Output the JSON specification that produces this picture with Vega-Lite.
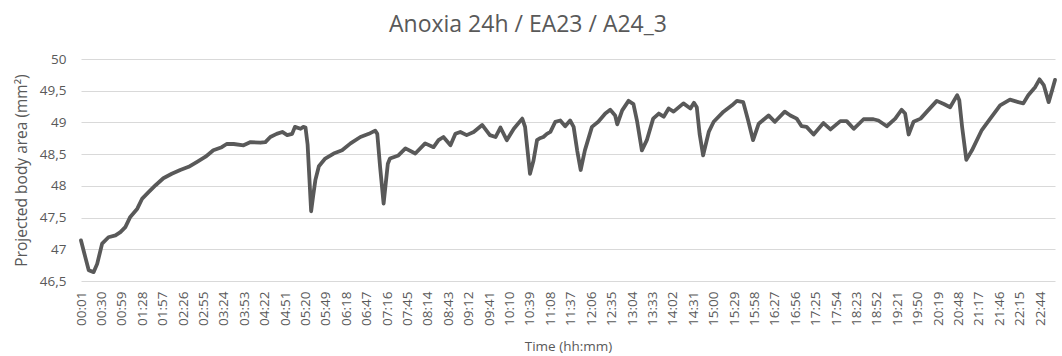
{
  "$schema": "https://vega.github.io/schema/vega-lite/v6.json",
  "width": 974,
  "height": 222,
  "autosize": {"type": "none"},
  "padding": {"left": 81, "top": 59, "right": 7, "bottom": 75},
  "background": "white",
  "config": {"font": "Open Sans", "view": {"stroke": null}},
  "title": {"text": "Anoxia 24h / EA23 / A24_3", "fontSize": 23, "fontWeight": "normal", "color": "#595959", "anchor": "middle", "dx": -40, "offset": 15},
  "data": {"values": [
    {"minute": 1, "area": 47.14}, {"minute": 7, "area": 46.88}, {"minute": 12, "area": 46.67}, {"minute": 19, "area": 46.64},
    {"minute": 24, "area": 46.77}, {"minute": 31, "area": 47.09}, {"minute": 40, "area": 47.19}, {"minute": 50, "area": 47.22},
    {"minute": 57, "area": 47.27}, {"minute": 64, "area": 47.35}, {"minute": 71, "area": 47.51}, {"minute": 81, "area": 47.64},
    {"minute": 88, "area": 47.80}, {"minute": 97, "area": 47.90}, {"minute": 107, "area": 48.01}, {"minute": 118, "area": 48.12},
    {"minute": 130, "area": 48.19}, {"minute": 142, "area": 48.25}, {"minute": 154, "area": 48.30}, {"minute": 166, "area": 48.38},
    {"minute": 178, "area": 48.46}, {"minute": 189, "area": 48.56}, {"minute": 201, "area": 48.61}, {"minute": 208, "area": 48.66},
    {"minute": 218, "area": 48.66}, {"minute": 232, "area": 48.64}, {"minute": 242, "area": 48.69}, {"minute": 256, "area": 48.68},
    {"minute": 263, "area": 48.69}, {"minute": 270, "area": 48.77}, {"minute": 279, "area": 48.82}, {"minute": 287, "area": 48.85},
    {"minute": 294, "area": 48.80}, {"minute": 301, "area": 48.82}, {"minute": 305, "area": 48.93}, {"minute": 313, "area": 48.90},
    {"minute": 317, "area": 48.93}, {"minute": 320, "area": 48.92}, {"minute": 323, "area": 48.65}, {"minute": 328, "area": 47.60},
    {"minute": 331, "area": 47.85}, {"minute": 334, "area": 48.09}, {"minute": 339, "area": 48.31}, {"minute": 348, "area": 48.43},
    {"minute": 360, "area": 48.51}, {"minute": 372, "area": 48.56}, {"minute": 384, "area": 48.67}, {"minute": 398, "area": 48.77},
    {"minute": 410, "area": 48.82}, {"minute": 419, "area": 48.87}, {"minute": 422, "area": 48.82}, {"minute": 426, "area": 48.30},
    {"minute": 431, "area": 47.72}, {"minute": 437, "area": 48.35}, {"minute": 440, "area": 48.43}, {"minute": 452, "area": 48.48},
    {"minute": 462, "area": 48.59}, {"minute": 476, "area": 48.51}, {"minute": 490, "area": 48.67}, {"minute": 502, "area": 48.61},
    {"minute": 509, "area": 48.72}, {"minute": 516, "area": 48.77}, {"minute": 526, "area": 48.64}, {"minute": 533, "area": 48.82},
    {"minute": 540, "area": 48.85}, {"minute": 549, "area": 48.80}, {"minute": 559, "area": 48.85}, {"minute": 571, "area": 48.96},
    {"minute": 582, "area": 48.80}, {"minute": 590, "area": 48.77}, {"minute": 597, "area": 48.92}, {"minute": 606, "area": 48.72},
    {"minute": 616, "area": 48.90}, {"minute": 628, "area": 49.06}, {"minute": 632, "area": 48.93}, {"minute": 639, "area": 48.19},
    {"minute": 644, "area": 48.40}, {"minute": 649, "area": 48.72}, {"minute": 653, "area": 48.75}, {"minute": 658, "area": 48.77},
    {"minute": 663, "area": 48.82}, {"minute": 668, "area": 48.85}, {"minute": 675, "area": 49.01}, {"minute": 682, "area": 49.03},
    {"minute": 689, "area": 48.94}, {"minute": 696, "area": 49.03}, {"minute": 701, "area": 48.93}, {"minute": 706, "area": 48.56},
    {"minute": 711, "area": 48.25}, {"minute": 717, "area": 48.56}, {"minute": 727, "area": 48.93}, {"minute": 736, "area": 49.01},
    {"minute": 746, "area": 49.14}, {"minute": 753, "area": 49.20}, {"minute": 760, "area": 49.11}, {"minute": 763, "area": 48.97},
    {"minute": 770, "area": 49.19}, {"minute": 779, "area": 49.34}, {"minute": 786, "area": 49.29}, {"minute": 791, "area": 49.03},
    {"minute": 798, "area": 48.56}, {"minute": 805, "area": 48.72}, {"minute": 814, "area": 49.06}, {"minute": 822, "area": 49.14},
    {"minute": 829, "area": 49.09}, {"minute": 836, "area": 49.22}, {"minute": 843, "area": 49.17}, {"minute": 857, "area": 49.30},
    {"minute": 867, "area": 49.22}, {"minute": 872, "area": 49.31}, {"minute": 876, "area": 49.24}, {"minute": 880, "area": 48.82},
    {"minute": 885, "area": 48.48}, {"minute": 893, "area": 48.85}, {"minute": 900, "area": 49.01}, {"minute": 914, "area": 49.17},
    {"minute": 926, "area": 49.27}, {"minute": 933, "area": 49.34}, {"minute": 942, "area": 49.32}, {"minute": 949, "area": 49.03},
    {"minute": 956, "area": 48.72}, {"minute": 964, "area": 48.98}, {"minute": 978, "area": 49.11}, {"minute": 987, "area": 49.01},
    {"minute": 1001, "area": 49.17}, {"minute": 1009, "area": 49.11}, {"minute": 1018, "area": 49.06}, {"minute": 1025, "area": 48.94},
    {"minute": 1032, "area": 48.93}, {"minute": 1042, "area": 48.81}, {"minute": 1056, "area": 48.99}, {"minute": 1066, "area": 48.89},
    {"minute": 1080, "area": 49.02}, {"minute": 1089, "area": 49.02}, {"minute": 1099, "area": 48.90}, {"minute": 1113, "area": 49.05},
    {"minute": 1127, "area": 49.05}, {"minute": 1134, "area": 49.03}, {"minute": 1146, "area": 48.94}, {"minute": 1158, "area": 49.06},
    {"minute": 1167, "area": 49.20}, {"minute": 1172, "area": 49.14}, {"minute": 1177, "area": 48.81}, {"minute": 1184, "area": 49.01},
    {"minute": 1194, "area": 49.06}, {"minute": 1203, "area": 49.17}, {"minute": 1217, "area": 49.34}, {"minute": 1227, "area": 49.29},
    {"minute": 1236, "area": 49.24}, {"minute": 1246, "area": 49.43}, {"minute": 1249, "area": 49.35}, {"minute": 1253, "area": 48.93},
    {"minute": 1259, "area": 48.41}, {"minute": 1267, "area": 48.56}, {"minute": 1281, "area": 48.88}, {"minute": 1293, "area": 49.06},
    {"minute": 1307, "area": 49.27}, {"minute": 1321, "area": 49.36}, {"minute": 1333, "area": 49.32}, {"minute": 1340, "area": 49.30},
    {"minute": 1347, "area": 49.43}, {"minute": 1357, "area": 49.56}, {"minute": 1363, "area": 49.68}, {"minute": 1369, "area": 49.59},
    {"minute": 1376, "area": 49.32}, {"minute": 1381, "area": 49.51}, {"minute": 1385, "area": 49.67}
  ]},
  "mark": {"type": "line", "color": "#595959", "strokeWidth": 3.8, "strokeJoin": "round", "strokeCap": "round"},
  "encoding": {
    "x": {
      "field": "minute", "type": "quantitative",
      "scale": {"domain": [1, 1385], "nice": false, "zero": false},
      "axis": {
        "title": "Time (hh:mm)",
        "values": [1, 30, 59, 88, 117, 146, 175, 204, 233, 262, 291, 320, 349, 378, 407, 436, 465, 494, 523, 552, 581, 610, 639, 668, 697, 726, 755, 784, 813, 842, 871, 900, 929, 958, 987, 1016, 1045, 1074, 1103, 1132, 1161, 1190, 1219, 1248, 1277, 1306, 1335, 1364],
        "labelExpr": "timeFormat(datetime(2000, 0, 1, 0, datum.value), '%H:%M')",
        "labelAngle": -90,
        "labelPadding": 10,
        "labelFontSize": 13.5,
        "labelColor": "#595959",
        "labelOverlap": false,
        "labelFlush": false,
        "grid": false,
        "ticks": false,
        "tickSize": 0,
        "domain": false,
        "titleFontSize": 13.5,
        "titleFontWeight": "normal",
        "titleColor": "#595959",
        "titleY": 58
      }
    },
    "y": {
      "field": "area", "type": "quantitative",
      "scale": {"domain": [46.5, 50], "nice": false, "zero": false},
      "axis": {
        "title": "Projected body area (mm²)",
        "values": [46.5, 47, 47.5, 48, 48.5, 49, 49.5, 50],
        "labelExpr": "replace(toString(datum.value), '.', ',')",
        "labelPadding": 15,
        "labelFontSize": 13.5,
        "labelColor": "#595959",
        "grid": true,
        "gridColor": "#d9d9d9",
        "gridWidth": 1,
        "ticks": false,
        "tickSize": 0,
        "domain": false,
        "titleFontSize": 15.5,
        "titleFontWeight": "normal",
        "titleColor": "#595959",
        "titleX": -52,
        "titleY": 111
      }
    }
  }
}
